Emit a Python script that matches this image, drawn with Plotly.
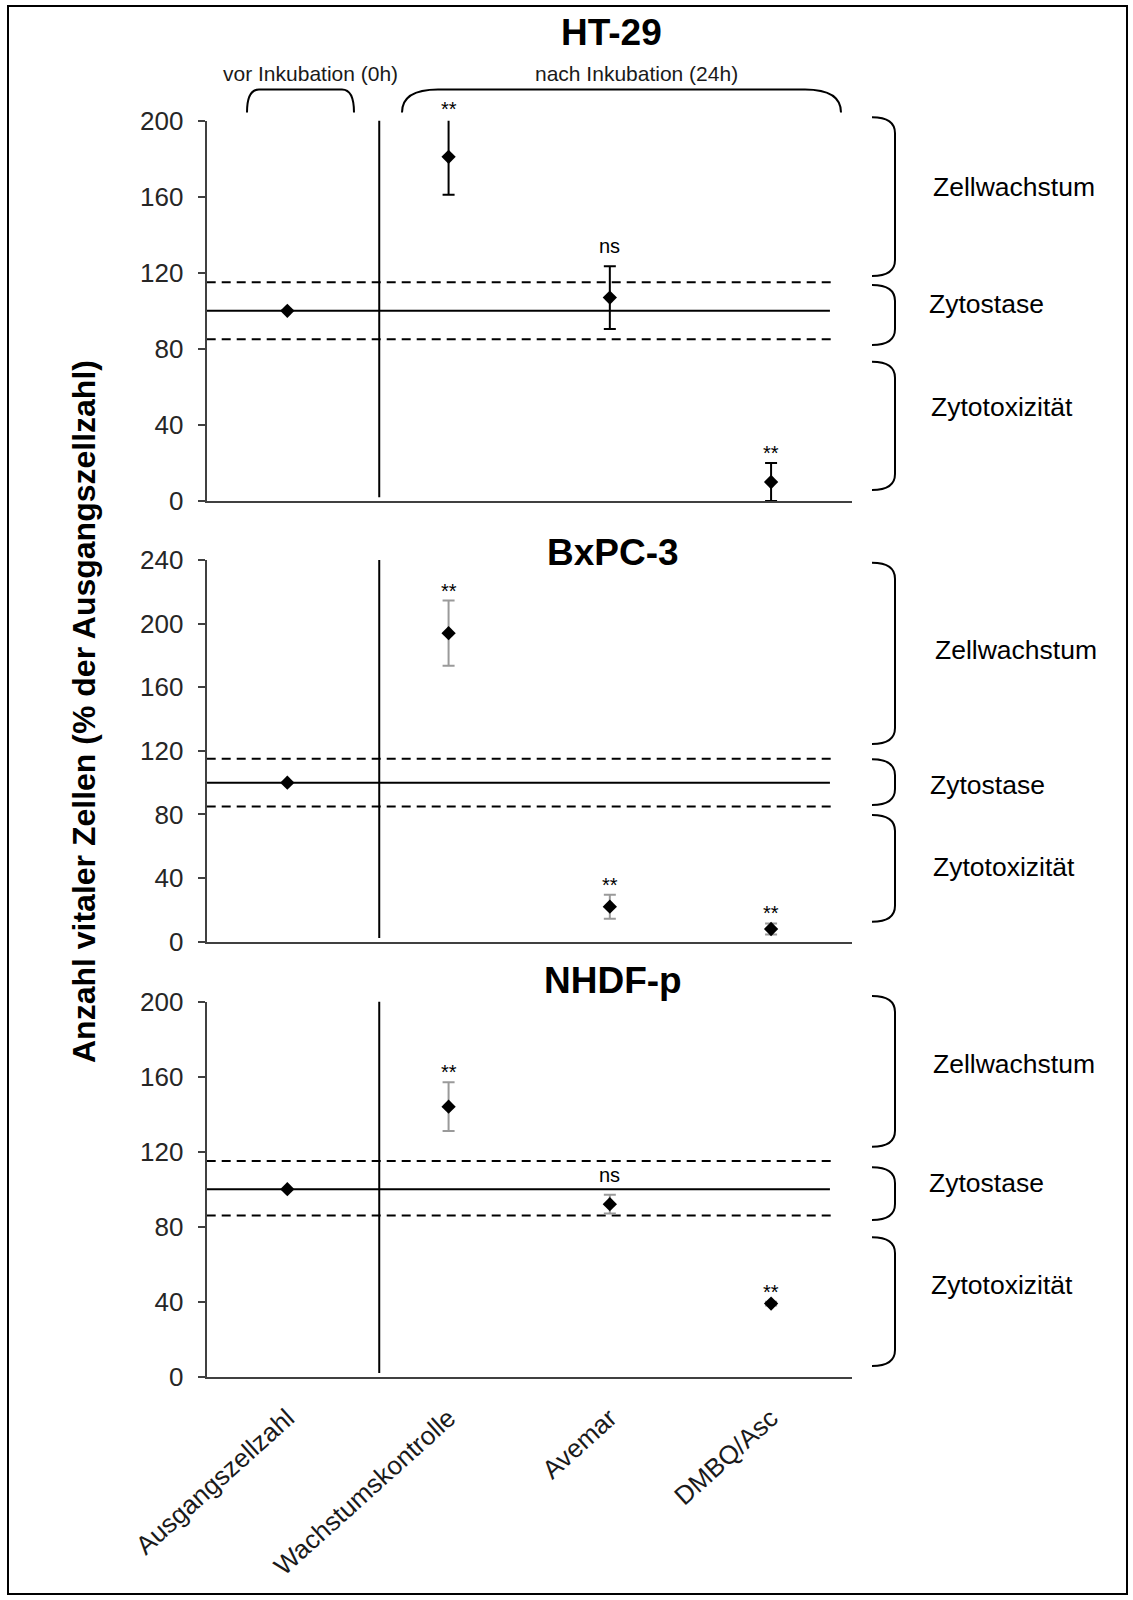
import plotly.graph_objects as go

W, H = 1133, 1600
FONT = "Liberation Sans, Arial, sans-serif"

# ---------------- data ----------------
categories = ["Ausgangszellzahl", "Wachstumskontrolle", "Avemar", "DMBQ/Asc"]

ht29_mean = [100, 181, 107, 10]
ht29_sd = [None, 20, 16.5, 10]
ht29_sig = ["", "**", "ns", "**"]

bxpc3_mean = [100, 194, 22, 8]
bxpc3_sd = [None, 20.5, 7.5, 3.5]
bxpc3_sig = ["", "**", "**", "**"]

nhdf_mean = [100, 144, 92, 39]
nhdf_sd = [None, 13, 5, 1]
nhdf_sig = ["", "**", "ns", "**"]

panel_names = ["HT-29", "BxPC-3", "NHDF-p"]
baseline = [100, 100, 100]
upper_limit = [115, 115, 115]
lower_limit = [85, 85, 86]
y_max = [200, 240, 200]
y_tick_step = 40

region_labels = ["Zellwachstum", "Zytostase", "Zytotoxizität"]
phase_labels = ["vor Inkubation (0h)", "nach Inkubation (24h)"]
y_title = "Anzahl vitaler Zellen (% der Ausgangszellzahl)"

# ---------------- layout helpers (pixel -> paper) ----------------
def px(xp):
    return xp / W

def py(yp):
    return 1 - yp / H

means = [ht29_mean, bxpc3_mean, nhdf_mean]
sds = [ht29_sd, bxpc3_sd, nhdf_sd]
sigs = [ht29_sig, bxpc3_sig, nhdf_sig]

# plot-area pixel geometry (top, bottom) for each panel
panel_px = [(120.7, 501.0), (560.0, 941.7), (1001.7, 1376.7)]
x_left, x_right = 206.7, 851.7
err_colors = ["#000000", "#9a9a9a", "#9a9a9a"]
title_pos = [(611, 32), (613, 552), (613, 980)]

brace_px = [
    [(117.3, 276.0), (285.0, 345.0), (361.7, 490.0)],
    [(562.7, 744.0), (759.3, 805.0), (815.0, 921.7)],
    [(996.0, 1146.7), (1167.3, 1220.0), (1237.3, 1366.0)],
]
label_px = [
    [(931, 187), (927, 304), (929, 407)],
    [(933, 650), (928, 785), (931, 867)],
    [(931, 1064), (927, 1183), (929, 1285)],
]

fig = go.Figure()
shapes = []
annotations = []

for i in range(3):
    sfx = "" if i == 0 else str(i + 1)
    xa, ya = "x" + sfx, "y" + sfx
    top, bot = panel_px[i]

    fig.add_trace(go.Scatter(
        x=categories, y=means[i], mode="markers",
        marker=dict(symbol="diamond", size=11, color="black"),
        error_y=dict(type="data", array=sds[i], visible=True,
                     color=err_colors[i], thickness=2, width=6),
        xaxis=xa, yaxis=ya, cliponaxis=False,
        showlegend=False, hoverinfo="skip",
    ))

    fig.update_layout(**{
        "xaxis" + sfx: dict(
            domain=[px(x_left), px(x_right)], anchor=ya, automargin=False,
            type="category", categoryorder="array", categoryarray=categories,
            range=[-0.5, 3.5], showline=True, linecolor="#404040", linewidth=2,
            ticks="", showgrid=False, zeroline=False,
            showticklabels=(i == 2), tickangle=-42,
            tickfont=dict(family=FONT, size=26, color="#1a1a1a"),
            ticklabelstandoff=14,
        ),
        "yaxis" + sfx: dict(
            domain=[py(bot), py(top)], anchor=xa, automargin=False,
            range=[0, y_max[i]],
            tickvals=list(range(0, y_max[i] + 1, y_tick_step)),
            ticks="outside", ticklen=7, tickwidth=2, tickcolor="#404040",
            showline=True, linecolor="#404040", linewidth=2,
            showgrid=False, zeroline=False,
            tickfont=dict(family=FONT, size=26, color="#262626"),
            ticklabelstandoff=9,
        ),
    })

    # reference lines
    shapes.append(dict(type="line", xref=xa, yref=ya, x0=-0.5, x1=3.365,
                       y0=baseline[i], y1=baseline[i],
                       line=dict(color="black", width=2), layer="below"))
    for lim in (upper_limit[i], lower_limit[i]):
        shapes.append(dict(type="line", xref=xa, yref=ya, x0=-0.5, x1=3.38,
                           y0=lim, y1=lim,
                           line=dict(color="black", width=2, dash="9px,6px"),
                           layer="below"))
    # divider between 0h and 24h
    shapes.append(dict(type="line", xref=xa, yref=ya + " domain",
                       x0=0.57, x1=0.57, y0=0.01, y1=1.0,
                       line=dict(color="black", width=2), layer="below"))

    # significance marks (domain-relative so they are never hidden)
    for j, s in enumerate(sigs[i]):
        if not s:
            continue
        e = sds[i][j] or 0
        annotations.append(dict(
            x=categories[j], y=(means[i][j] + e) / y_max[i],
            xref=xa, yref=ya + " domain",
            text=s, showarrow=False, yanchor="middle",
            yshift=10 if s == "**" else 20,
            font=dict(family=FONT, size=20, color="black"),
        ))

    # panel title
    tx, ty = title_pos[i]
    annotations.append(dict(
        x=px(tx), y=py(ty), xref="paper", yref="paper",
        text="<b>%s</b>" % panel_names[i], showarrow=False,
        xanchor="center", yanchor="middle",
        font=dict(family=FONT, size=37, color="black"),
    ))

    # right-hand braces and labels
    for k in range(3):
        y0, y1 = brace_px[i][k]
        bx0, bx1, r = 872, 895, 16
        path = ("M {a},{b} Q {c},{b} {c},{d} L {c},{e} Q {c},{f} {a},{f}"
                .format(a=px(bx0), b=py(y0), c=px(bx1), d=py(y0 + r),
                        e=py(y1 - r), f=py(y1)))
        shapes.append(dict(type="path", xref="paper", yref="paper", path=path,
                           line=dict(color="black", width=2)))
        lx, ly = label_px[i][k]
        annotations.append(dict(
            x=px(lx), y=py(ly), xref="paper", yref="paper",
            text=region_labels[k], showarrow=False,
            xanchor="left", yanchor="middle",
            font=dict(family=FONT, size=26.5, color="black"),
        ))

# top brackets (0h / 24h) for the first panel
def top_bracket(x0, x1, ytop, ybot, rx):
    return ("M {a},{b} Q {a},{t} {c},{t} L {d},{t} Q {e},{t} {e},{b}"
            .format(a=px(x0), b=py(ybot), t=py(ytop), c=px(x0 + rx),
                    d=px(x1 - rx), e=px(x1)))

shapes.append(dict(type="path", xref="paper", yref="paper",
                   path=top_bracket(247, 354, 89.5, 112.5, 12),
                   line=dict(color="black", width=2)))
shapes.append(dict(type="path", xref="paper", yref="paper",
                   path=top_bracket(402, 841, 89.5, 112.5, 36),
                   line=dict(color="black", width=2)))
for txt, cx in zip(phase_labels, (310.5, 636.7)):
    annotations.append(dict(
        x=px(cx), y=py(73), xref="paper", yref="paper", text=txt,
        showarrow=False, xanchor="center", yanchor="middle",
        font=dict(family=FONT, size=21, color="#1a1a1a"),
    ))

# y-axis title
annotations.append(dict(
    x=px(84), y=py(712), xref="paper", yref="paper",
    text="<b>%s</b>" % y_title, textangle=-90, showarrow=False,
    xanchor="center", yanchor="middle",
    font=dict(family=FONT, size=32, color="black"),
))

# outer frame
shapes.append(dict(type="rect", xref="paper", yref="paper",
                   x0=px(8), x1=px(1127), y0=py(1594), y1=py(6),
                   line=dict(color="black", width=2)))

fig.update_layout(
    template="none",
    width=W, height=H,
    margin=dict(l=0, r=0, t=0, b=0, pad=0, autoexpand=False),
    paper_bgcolor="white", plot_bgcolor="white",
    showlegend=False,
    shapes=shapes, annotations=annotations,
    font=dict(family=FONT),
)

fig.write_html("out.html")
